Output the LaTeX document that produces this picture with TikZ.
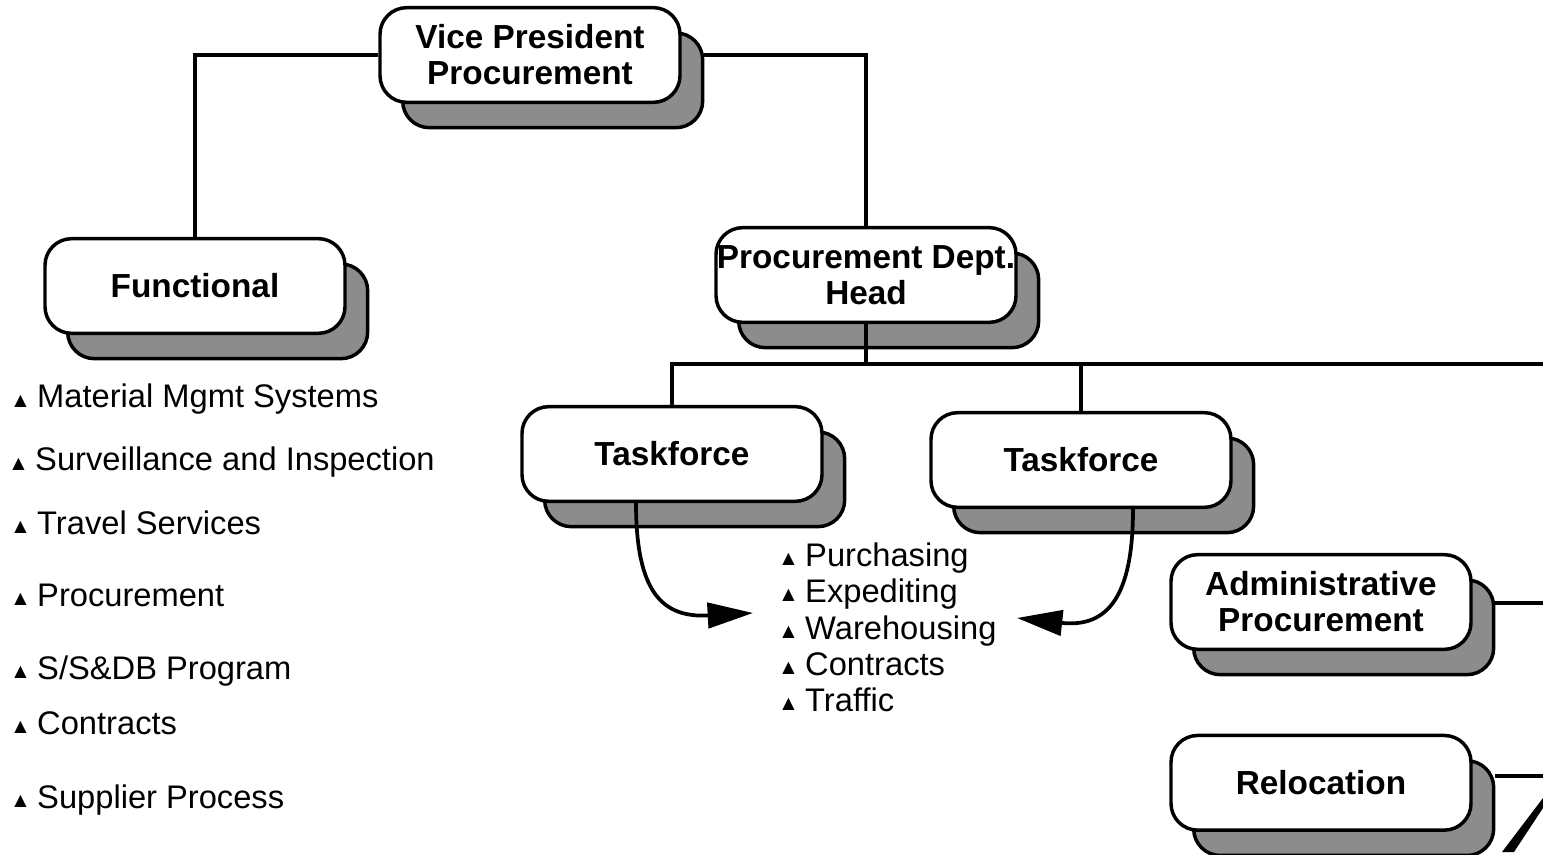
\documentclass[tikz,border=0pt]{standalone}
\usepackage{fontspec}
\setmainfont{Liberation Sans}
\newfontfamily\symfont{DejaVu Sans}
\usetikzlibrary{
  arrows.meta,
  calc,
  positioning,
  shadows,
}
\tikzset{
  >={Triangle[length=34pt,width=19pt]},
}
\newcommand{\tribul}{\raisebox{2pt}{\symfont\fontsize{12}{12}\selectfont ▲}\hspace{8pt}}

\begin{document}
\begin{tikzpicture}[x=0.75pt, y=-0.75pt,
    box/.style={draw, fill=white, line width=2.6pt, rounded corners=20pt,
                minimum width=225pt, minimum height=71pt, inner xsep=0pt,
                align=center, font=\bfseries\fontsize{25}{27}\selectfont,
                general shadow={shadow xshift=17pt, shadow yshift=-19pt,
                                fill=black!45, draw=black, line width=2.6pt}},
    item/.style={anchor=base west, inner sep=0pt, font=\fontsize{24.5}{27}\selectfont},
    link/.style={line width=2.6pt},
    flow/.style={line width=2.8pt, ->}]
  \useasboundingbox (0,0) rectangle (1543,855);

  % boxes
  \node [box] (vp) at (530,55) {Vice President\\Procurement};
  \node [box] (func) at (195,286) {Functional};
  \node [box] (pdh) at (866,275) {Procurement Dept.\\Head};
  \node [box] (tf1) at (672,454) {Taskforce};
  \node [box] (tf2) at (1081,460) {Taskforce};
  \node [box] (adm) at (1321,602) {Administrative\\Procurement};
  \node [box, below=62pt of adm] (rel) {Relocation};

  % functional list
  \node [item] (m1) at (14,408) {\tribul Material Mgmt Systems};
  \node [item] (m2) at (12,471) {\tribul Surveillance and Inspection};
  \node [item] (m3) at (14,534) {\tribul Travel Services};
  \node [item] (m4) at (14,606) {\tribul Procurement};
  \node [item] (m5) at (14,679) {\tribul S/S\&DB Program};
  \node [item] (m6) at (14,734) {\tribul Contracts};
  \node [item] (m7) at (14,808) {\tribul Supplier Process};

  % taskforce list
  \node [item] (t1) at (782,566) {\tribul Purchasing};
  \node [item] (t2) at (782,602) {\tribul Expediting};
  \node [item] (t3) at (782,639) {\tribul Warehousing};
  \node [item] (t4) at (782,675) {\tribul Contracts};
  \node [item] (t5) at (782,711) {\tribul Traffic};

  % tree lines
  \coordinate (bus) at (866,364);
  \coordinate (busend) at (1543,364);
  \coordinate (admend) at (1543,603);
  \coordinate (relend) at (1543,776);
  \draw [link] (vp.west) -| (func.north);
  \draw [link, shorten <=17pt] (vp.east) -| (pdh.north);
  \draw [link] (pdh.south) -- (bus);
  \draw [link] (tf1.north) |- (busend);
  \draw [link] (tf2.north) -- (tf2.north |- bus);
  \draw [link, shorten <=17pt] (adm.east |- admend) -- (admend);
  \draw [link, shorten <=17pt] (rel.east |- relend) -- (relend);

  % curved arrows
  \coordinate (tip1) at (753,613);
  \coordinate (tip2) at (1017,618);
  \draw [flow] ($(tf1.south)+(-36,0)$) .. controls (636,592) and (662,618) .. (tip1);
  \draw [flow] ($(tf2.south)+(52,0)$) .. controls (1133,596) and (1108,628) .. (tip2);

  % cut-off arrowhead at the edge
  \fill (1543,798) -- (1543,808) -- (1514,852) -- (1502,852) -- cycle;
\end{tikzpicture}
\end{document}
